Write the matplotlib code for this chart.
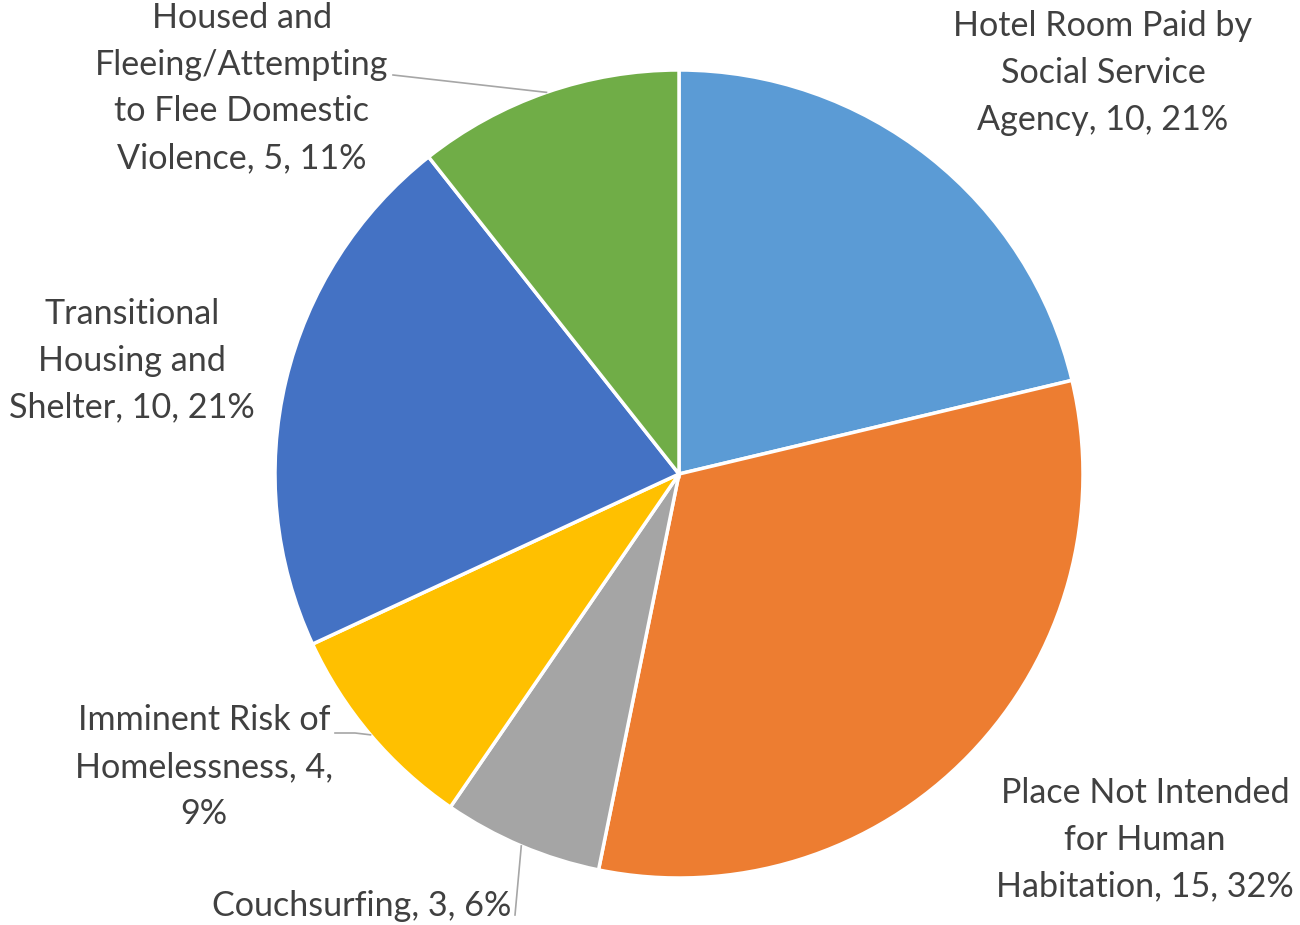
import numpy as np
import matplotlib.pyplot as plt

# slices in clockwise order starting at 12 o'clock
labels = ["Hotel Room Paid by\nSocial Service\nAgency",
          "Place Not Intended\nfor Human\nHabitation",
          "Couchsurfing",
          "Imminent Risk of\nHomelessness",
          "Transitional\nHousing and\nShelter",
          "Housed and\nFleeing/Attempting\nto Flee Domestic\nViolence"]
counts = [10, 15, 3, 4, 10, 5]
colors = ["#5B9BD5", "#ED7D31", "#A5A5A5", "#FFC000", "#4472C4", "#70AD47"]

W, H = 1300, 925
cx, cy, R = 679, 474, 404

def px(x, y):
    # pixel position -> data coords (pie radius = 1)
    return (x - cx) / R, (cy - y) / R

fig = plt.figure(figsize=(13, 9.25), dpi=100)
ax = fig.add_axes([0, 0, 1, 1])

wedges, _ = ax.pie(counts, colors=colors, startangle=90, counterclock=False,
                   radius=1, wedgeprops=dict(edgecolor="white", linewidth=2.5))

# pie() resets the limits, so set them afterwards
ax.set_xlim(-cx / R, (W - cx) / R)
ax.set_ylim((cy - H) / R, cy / R)
ax.set_aspect("equal")
ax.axis("off")

total = sum(counts)
pct = [round(100 * c / total) for c in counts]
texts = []
for i in range(len(counts)):
    t = labels[i] + ", %d, %d%%" % (counts[i], pct[i])
    texts.append(t)
# manual wraps like the original
texts[3] = "Imminent Risk of\nHomelessness, %d,\n%d%%" % (counts[3], pct[3])

# label centres in pixels
pos = [(1103, 73), (1145, 840), (362, 906), (204, 767), (132, 361), (242, 88)]
for t, (x, y) in zip(texts, pos):
    ax.text(*px(x, y), t, ha="center", va="center", fontsize=24.6,
            family="Lato", color="#404040", linespacing=1.56)

# leader lines from wedge middles
cum = np.cumsum([0] + counts)
def edge(i):
    a = np.deg2rad(90 - 360 * (cum[i] + cum[i + 1]) / 2 / total)
    return np.cos(a), np.sin(a)

lc = "#A6A6A6"
ex, ey = edge(5)
ax.plot([px(393, 75)[0], ex], [px(393, 75)[1], ey], color=lc, lw=1.2)
ex, ey = edge(3)
p1 = px(335, 733); p2 = px(355, 733)
ax.plot([p1[0], p2[0], ex], [p1[1], p2[1], ey], color=lc, lw=1.2)
ex, ey = edge(2)
p1 = px(515, 915)
ax.plot([p1[0], ex], [p1[1], ey], color=lc, lw=1.2)

plt.savefig("out.png", dpi=100)
